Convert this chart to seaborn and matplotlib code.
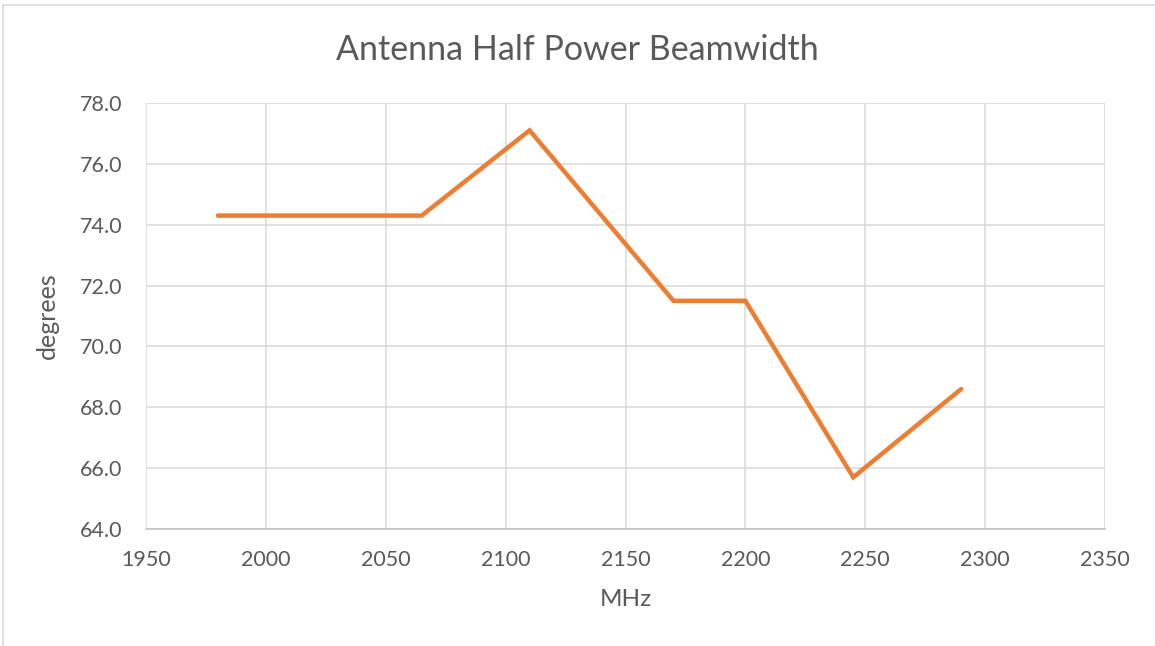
import matplotlib.pyplot as plt
import matplotlib.patches as mpatches
import pandas as pd
import seaborn as sns

# data
freq_mhz = [1980, 2065, 2110, 2170, 2200, 2245, 2290]
beamwidth_deg = [74.3, 74.3, 77.1, 71.5, 71.5, 65.7, 68.6]
x_ticks = [1950, 2000, 2050, 2100, 2150, 2200, 2250, 2300, 2350]
y_ticks = [64.0, 66.0, 68.0, 70.0, 72.0, 74.0, 76.0, 78.0]

TEXT = '#595959'
GRID = '#D9D9D9'
LINE = '#ED7D31'

sns.set_theme(style='white')
plt.rcParams['font.family'] = ['Lato', 'DejaVu Sans']

df = pd.DataFrame({'MHz': freq_mhz, 'degrees': beamwidth_deg})

fig = plt.figure(figsize=(11.55, 6.46), dpi=100)
ax = fig.add_axes([146 / 1155, 1 - 529 / 646, (1105 - 146) / 1155, (529 - 103) / 646])

sns.lineplot(data=df, x='MHz', y='degrees', color=LINE, linewidth=3.2, ax=ax,
             solid_capstyle='round', solid_joinstyle='miter')

ax.set_xlim(x_ticks[0], x_ticks[-1])
ax.set_ylim(y_ticks[0], y_ticks[-1])
ax.set_xticks(x_ticks)
ax.set_yticks(y_ticks)
ax.set_yticklabels([f'{v:.1f}' for v in y_ticks])
ax.grid(True, color=GRID, linewidth=1.1)
ax.set_axisbelow(True)
for side in ['top', 'right', 'left']:
    ax.spines[side].set_visible(False)
ax.spines['bottom'].set_color('#BFBFBF')
ax.spines['bottom'].set_linewidth(1.1)

ax.tick_params(axis='both', length=0, labelsize=15.5, colors=TEXT)
ax.tick_params(axis='x', pad=15)
ax.tick_params(axis='y', pad=17)
ax.set_xlabel('MHz', fontsize=17.5, color=TEXT, labelpad=14)
ax.set_ylabel('degrees', fontsize=18, color=TEXT, labelpad=15)

fig.text(0.5, 1 - 50 / 646, 'Antenna Half Power Beamwidth', ha='center', va='center',
         fontsize=24.5, color=TEXT)

# light chart-area border, cut off at right and bottom like the reference
border = mpatches.Rectangle((3 / 1155, -0.1), 1.2, 1.1 - 5 / 646, transform=fig.transFigure,
                            fill=False, edgecolor=GRID, linewidth=1.2)
fig.patches.append(border)

fig.savefig('out.png', dpi=100)
